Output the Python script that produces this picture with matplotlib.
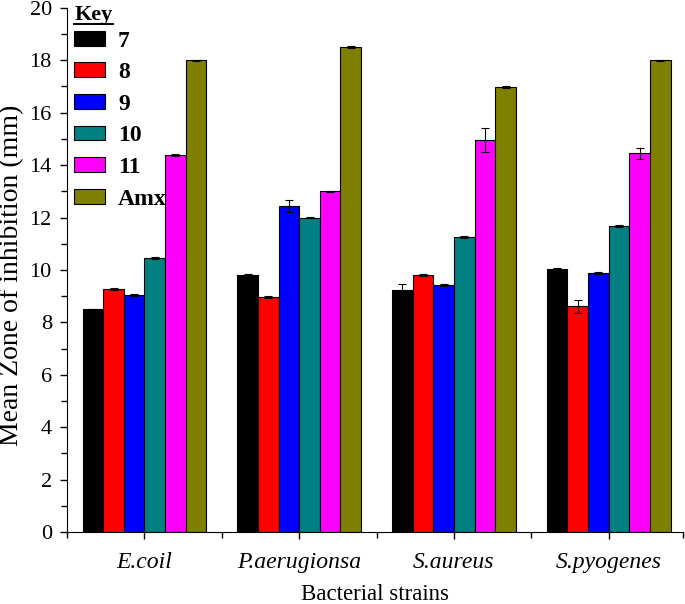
import numpy as np
import matplotlib
matplotlib.use("Agg")
import matplotlib.pyplot as plt
from matplotlib.patches import Patch
from matplotlib.lines import Line2D
from matplotlib.ticker import MultipleLocator, FixedLocator

plt.rcParams['font.family'] = ['Liberation Serif', 'DejaVu Serif']

strains = ["E.coil", "P.aerugionsa", "S.aureus", "S.pyogenes"]
keys = ["7", "8", "9", "10", "11", "Amx"]
colors = ["#000000", "#ff0000", "#0000ff", "#008080", "#ff00ff", "#808000"]

# mean zone of inhibition (mm), one list per compound
v7 = [8.5, 9.8, 9.25, 10.03]
v8 = [9.27, 8.97, 9.8, 8.62]
v9 = [9.05, 12.45, 9.43, 9.88]
v10 = [10.47, 12.0, 11.25, 11.67]
v11 = [14.38, 13.0, 14.97, 14.45]
amx = [18.0, 18.5, 16.97, 18.0]

# standard errors
e7 = [0.03, 0.04, 0.22, 0.04]
e8 = [0.04, 0.03, 0.03, 0.25]
e9 = [0.03, 0.22, 0.03, 0.04]
e10 = [0.04, 0.02, 0.03, 0.04]
e11 = [0.03, 0.02, 0.45, 0.22]
eamx = [0.02, 0.04, 0.03, 0.02]

values = [v7, v8, v9, v10, v11, amx]
errors = [e7, e8, e9, e10, e11, eamx]

fig = plt.figure(figsize=(6.85, 6.04), dpi=100)
ax = fig.add_axes([0.098, 0.119, 0.899, 0.868])

x = np.arange(len(strains))
w = 0.8 / len(keys)
for i in range(len(keys)):
    pos = x - 0.4 + w * (i + 0.5)
    ax.bar(pos, values[i], w, color=colors[i], edgecolor="black", linewidth=0.8,
           yerr=errors[i], capsize=3, error_kw=dict(ecolor="black", elinewidth=0.8, capthick=0.8))

ax.set_xlim(-0.5, 3.48)
ax.set_ylim(0, 20)
ax.set_xticks(x)
ax.set_xticklabels(strains, fontstyle="italic", fontsize=17)
ax.xaxis.set_minor_locator(FixedLocator([-0.5, 0.5, 1.5, 2.5, 3.48]))
ax.yaxis.set_major_locator(MultipleLocator(2))
ax.yaxis.set_minor_locator(MultipleLocator(1))
ax.tick_params(axis="y", labelsize=16, pad=6)
ax.tick_params(axis="x", pad=9)
ax.tick_params(which="major", direction="out", length=5, width=1)
ax.tick_params(which="minor", direction="out", length=4, width=1)
ax.spines["top"].set_visible(False)
ax.spines["right"].set_visible(False)
ax.set_ylabel("Mean Zone of inhibition (mm)", fontsize=20)
ax.yaxis.set_label_coords(-0.07, 0.49)
ax.set_xlabel("Bacterial strains", fontsize=16.5)
ax.xaxis.set_label_coords(0.5, -0.099)

handles = [Patch(facecolor=colors[i], edgecolor="black", linewidth=0.8) for i in range(len(keys))]
leg = ax.legend(handles, keys, title="Key", loc="upper left", frameon=False,
                prop=dict(weight="bold", size=17), handlelength=1.3, handleheight=0.58,
                handletextpad=0.55, labelspacing=0.45, borderpad=0.1, borderaxespad=0.0,
                bbox_to_anchor=(0.008, 1.01))
leg.get_title().set_fontweight("bold")
leg.get_title().set_fontsize(16)
leg._legend_box.align = "left"
leg._legend_box.sep = 4

# underline the legend title
fig.canvas.draw()
bb = leg.get_title().get_window_extent().transformed(fig.transFigure.inverted())
fig.add_artist(Line2D([bb.x0, bb.x1], [bb.y0 + 0.001, bb.y0 + 0.001], color="black", linewidth=1.4))

fig.savefig("out.png", dpi=100)
